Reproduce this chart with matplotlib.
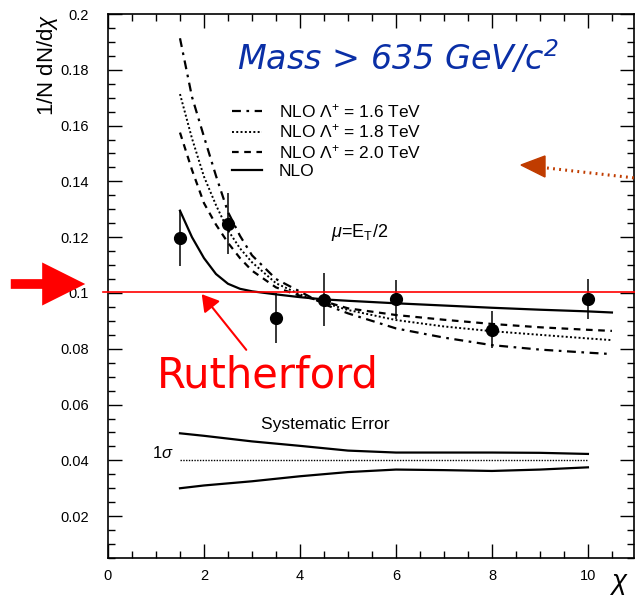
import matplotlib
matplotlib.use("Agg")
import matplotlib.pyplot as plt
from matplotlib.ticker import MultipleLocator, FixedLocator
from matplotlib.patches import FancyArrowPatch, Polygon

plt.rcParams['font.family'] = ['Liberation Sans', 'DejaVu Sans']
plt.rcParams['mathtext.fontset'] = 'custom'
plt.rcParams['mathtext.rm'] = 'Liberation Sans'
plt.rcParams['mathtext.it'] = 'Liberation Sans:italic'

# data points with errors
chi_data = [1.5, 2.5, 3.5, 4.5, 6.0, 8.0, 10.0]
y_data = [0.1198, 0.1248, 0.0910, 0.0975, 0.0978, 0.0868, 0.0977]
y_err = [0.0100, 0.0110, 0.0090, 0.0095, 0.0070, 0.0066, 0.0072]

# theory curves
chi_curve = [1.5, 1.75, 2.0, 2.25, 2.5, 2.75, 3.0, 3.5, 4.0, 4.5, 5.0, 6.0, 7.0, 8.0, 9.0, 10.0, 10.5]
nlo = [0.1295, 0.1200, 0.1125, 0.1068, 0.1033, 0.1015, 0.1006, 0.0995, 0.0985, 0.0977,
       0.0972, 0.0963, 0.0955, 0.0947, 0.0940, 0.0934, 0.0930]
nlo_20 = [0.1575, 0.1441, 0.1322, 0.1245, 0.1180, 0.1125, 0.1080, 0.1020, 0.0990, 0.0970,
          0.0945, 0.0921, 0.0904, 0.0889, 0.0877, 0.0868, 0.0864]
nlo_18 = [0.1713, 0.1554, 0.1417, 0.1315, 0.1225, 0.1160, 0.1110, 0.1035, 0.0995, 0.0965,
          0.0939, 0.0903, 0.0880, 0.0863, 0.0850, 0.0837, 0.0831]
nlo_16 = [0.1913, 0.1703, 0.1560, 0.1420, 0.1290, 0.1205, 0.1135, 0.1050, 0.1005, 0.0960,
          0.0927, 0.0873, 0.0840, 0.0813, 0.0797, 0.0786, 0.0781]

# systematic error band
chi_sys = [1.5, 2.0, 3.0, 4.0, 5.0, 6.0, 7.0, 8.0, 9.0, 10.0]
sys_up = [0.0497, 0.0488, 0.0468, 0.0452, 0.0435, 0.0428, 0.0428, 0.0428, 0.0427, 0.0423]
sys_lo = [0.0300, 0.0310, 0.0325, 0.0343, 0.0358, 0.0367, 0.0365, 0.0362, 0.0367, 0.0375]
sys_mid = [0.04] * len(chi_sys)

x_ticks = [0, 2, 4, 6, 8, 10]
y_ticks = [0.02, 0.04, 0.06, 0.08, 0.1, 0.12, 0.14, 0.16, 0.18, 0.2]
y_ticklabels = ['0.02', '0.04', '0.06', '0.08', '0.1', '0.12', '0.14', '0.16', '0.18', '0.2']

fig = plt.figure(figsize=(6.35, 5.99), dpi=100)
ax = fig.add_axes([108 / 635, 41 / 599, 526 / 635, 544 / 599])
ax.set_xlim(0, 10.96)
ax.set_ylim(0.005, 0.2)

l16, = ax.plot(chi_curve, nlo_16, color='black', lw=1.6, ls=(0, (4, 2.5, 1.2, 2.5)))
l18, = ax.plot(chi_curve, nlo_18, color='black', lw=1.4, ls=(0, (1, 1.2)))
l20, = ax.plot(chi_curve, nlo_20, color='black', lw=1.6, ls=(0, (3, 2.5)))
l0, = ax.plot(chi_curve, nlo, color='black', lw=1.6, ls='-')

ax.errorbar(chi_data, y_data, yerr=y_err, fmt='o', color='black', ms=8.5,
            elinewidth=1.1, capsize=0, zorder=5)

ax.plot(chi_sys, sys_up, color='black', lw=1.6)
ax.plot(chi_sys, sys_lo, color='black', lw=1.6)
ax.plot(chi_sys, sys_mid, color='black', lw=1.0, ls=(0, (1, 1)))

ax.legend([l16, l18, l20, l0],
          [r'NLO $\Lambda^{+}$ = 1.6 TeV', r'NLO $\Lambda^{+}$ = 1.8 TeV',
           r'NLO $\Lambda^{+}$ = 2.0 TeV', 'NLO'],
          loc='upper left', bbox_to_anchor=(0.236, 0.838), frameon=False,
          fontsize=12.5, handlelength=1.7, handletextpad=1.0, labelspacing=0.15,
          borderpad=0, borderaxespad=0)

ax.text(5.25, 0.1218, r'$\mu$=E$_\mathrm{T}$/2', fontsize=13, ha='center', va='center')
ax.text(4.52, 0.0527, 'Systematic Error', fontsize=12.5, ha='center', va='center')
ax.text(1.15, 0.0425, r'1$\sigma$', fontsize=12, ha='center', va='center')

ax.xaxis.set_major_locator(FixedLocator(x_ticks))
ax.xaxis.set_minor_locator(MultipleLocator(0.5))
ax.yaxis.set_major_locator(FixedLocator(y_ticks))
ax.yaxis.set_minor_locator(MultipleLocator(0.005))
ax.set_yticklabels(y_ticklabels)
ax.tick_params(which='both', direction='in', top=True, right=True, labelsize=10.5)
ax.tick_params(which='major', length=10, width=1.0)
ax.tick_params(which='minor', length=5, width=1.0)
ax.tick_params(axis='y', pad=14)
ax.tick_params(axis='x', pad=8)
for s in ax.spines.values():
    s.set_linewidth(1.2)

# Rutherford line
ax.plot([-0.1, 11.1], [0.1003, 0.1003], color='red', lw=1.2, clip_on=False, zorder=6)

fig.text(237 / 635, 1 - 70 / 599, r'Mass > 635 GeV/c$^\mathregular{2}$', color='#0a2fa6',
         fontsize=24, style='italic', family='DejaVu Sans', ha='left', va='baseline')
fig.text(157 / 635, 1 - 388 / 599, 'Rutherford', color='red', fontsize=30,
         family='DejaVu Sans', ha='left', va='baseline')

fig.text(48 / 635, 1 - 14 / 599, r'1/N dN/d$\chi$', rotation=90, fontsize=16,
         ha='center', va='top')
fig.text(619 / 635, 1 - 584 / 599, r'$\chi$', fontsize=20, ha='center', va='center')

# thin red arrow
fig.patches.append(FancyArrowPatch((248 / 635, 1 - 352 / 599), (200 / 635, 1 - 292 / 599),
                                   transform=fig.transFigure, arrowstyle='-|>,head_length=10,head_width=6',
                                   mutation_scale=1, color='red', lw=1.5))
# big red arrow
fig.patches.append(FancyArrowPatch((8 / 635, 1 - 284 / 599), (88 / 635, 1 - 284 / 599),
                                   transform=fig.transFigure,
                                   arrowstyle='simple,head_length=31,head_width=31,tail_width=7',
                                   mutation_scale=1, color='red', lw=0))
# brown dotted arrow
fig.lines.append(plt.Line2D([547 / 635, 635 / 635], [1 - 168 / 599, 1 - 178 / 599],
                            transform=fig.transFigure, color='#c03c00', lw=2.2,
                            ls=(0, (0.6, 1.4))))
fig.patches.append(Polygon([(521 / 635, 1 - 165 / 599), (545 / 635, 1 - 156 / 599),
                            (545 / 635, 1 - 177 / 599)], closed=True,
                           transform=fig.transFigure, color='#c03c00'))

fig.savefig('out.png', dpi=100)
